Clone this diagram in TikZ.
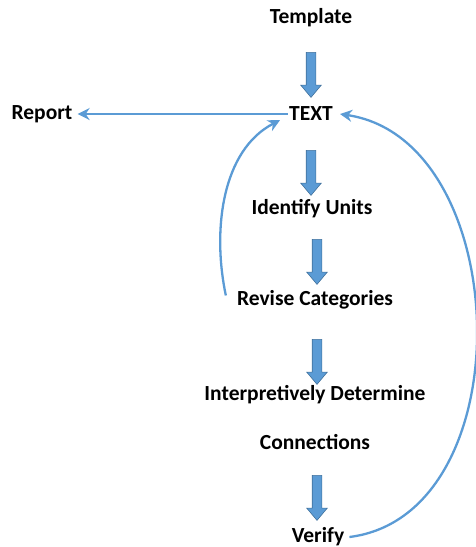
\documentclass[tikz,border=0pt]{standalone}
\usepackage{fontspec}
\setmainfont{Carlito}
\usetikzlibrary{shapes.arrows,arrows.meta}
\definecolor{flowblue}{HTML}{5B9BD5}
\definecolor{flowedge}{HTML}{41719C}
\tikzset{
  lbl/.style={font=\fontsize{21.5}{25}\selectfont\bfseries, inner sep=1pt},
  blockarr/.style={single arrow, fill=flowblue, draw=flowedge, line width=0.6pt,
    minimum height=45pt, inner xsep=0pt, inner ysep=4.5pt, single arrow head extend=5.5pt,
    single arrow tip angle=80, rotate=-90},
  thinarr/.style={draw=flowblue, line width=2.3pt, -{Stealth[length=12pt,width=12pt]}}
}
\begin{document}
\begin{tikzpicture}[x=1pt,y=-1pt]
      \useasboundingbox (0,0) rectangle (475,547);
      % steps
      \node[lbl] (tmpl) at (311, 18) {Template};
      \node[lbl] (text) at (311, 114) {TEXT};
      \node[lbl] (rep) at (42, 114) {Report};
      \node[lbl] (units) at (312, 209) {Identify Units};
      \node[lbl] (rev) at (315, 300) {Revise Categories};
      \node[lbl] (interp) at (315, 395) {Interpretively Determine};
      \node[lbl] (conn) at (315, 442) {Connections};
      \node[lbl] (ver) at (318, 537) {Verify};
      % block arrows
      \node[blockarr] (b1) at (311, 72) {};
      \node[blockarr] (b2) at (311, 170) {};
      \node[blockarr] (b3) at (317, 259) {};
      \node[blockarr] (b4) at (317, 359) {};
      \node[blockarr] (b5) at (317, 495) {};
      % feedback lines
      \draw[thinarr] (text.west) -- ([xshift=4pt]rep.east);
      \draw[thinarr] ([xshift=-10pt,yshift=-6pt]rev.north west) .. controls (212, 230) and (222, 150) .. ([xshift=-8pt,yshift=2pt]text.south west);
      \draw[thinarr] ([xshift=4pt]ver.east) .. controls (525, 515) and (515, 140) .. ([xshift=6pt]text.east);
    \end{tikzpicture}
\end{document}
